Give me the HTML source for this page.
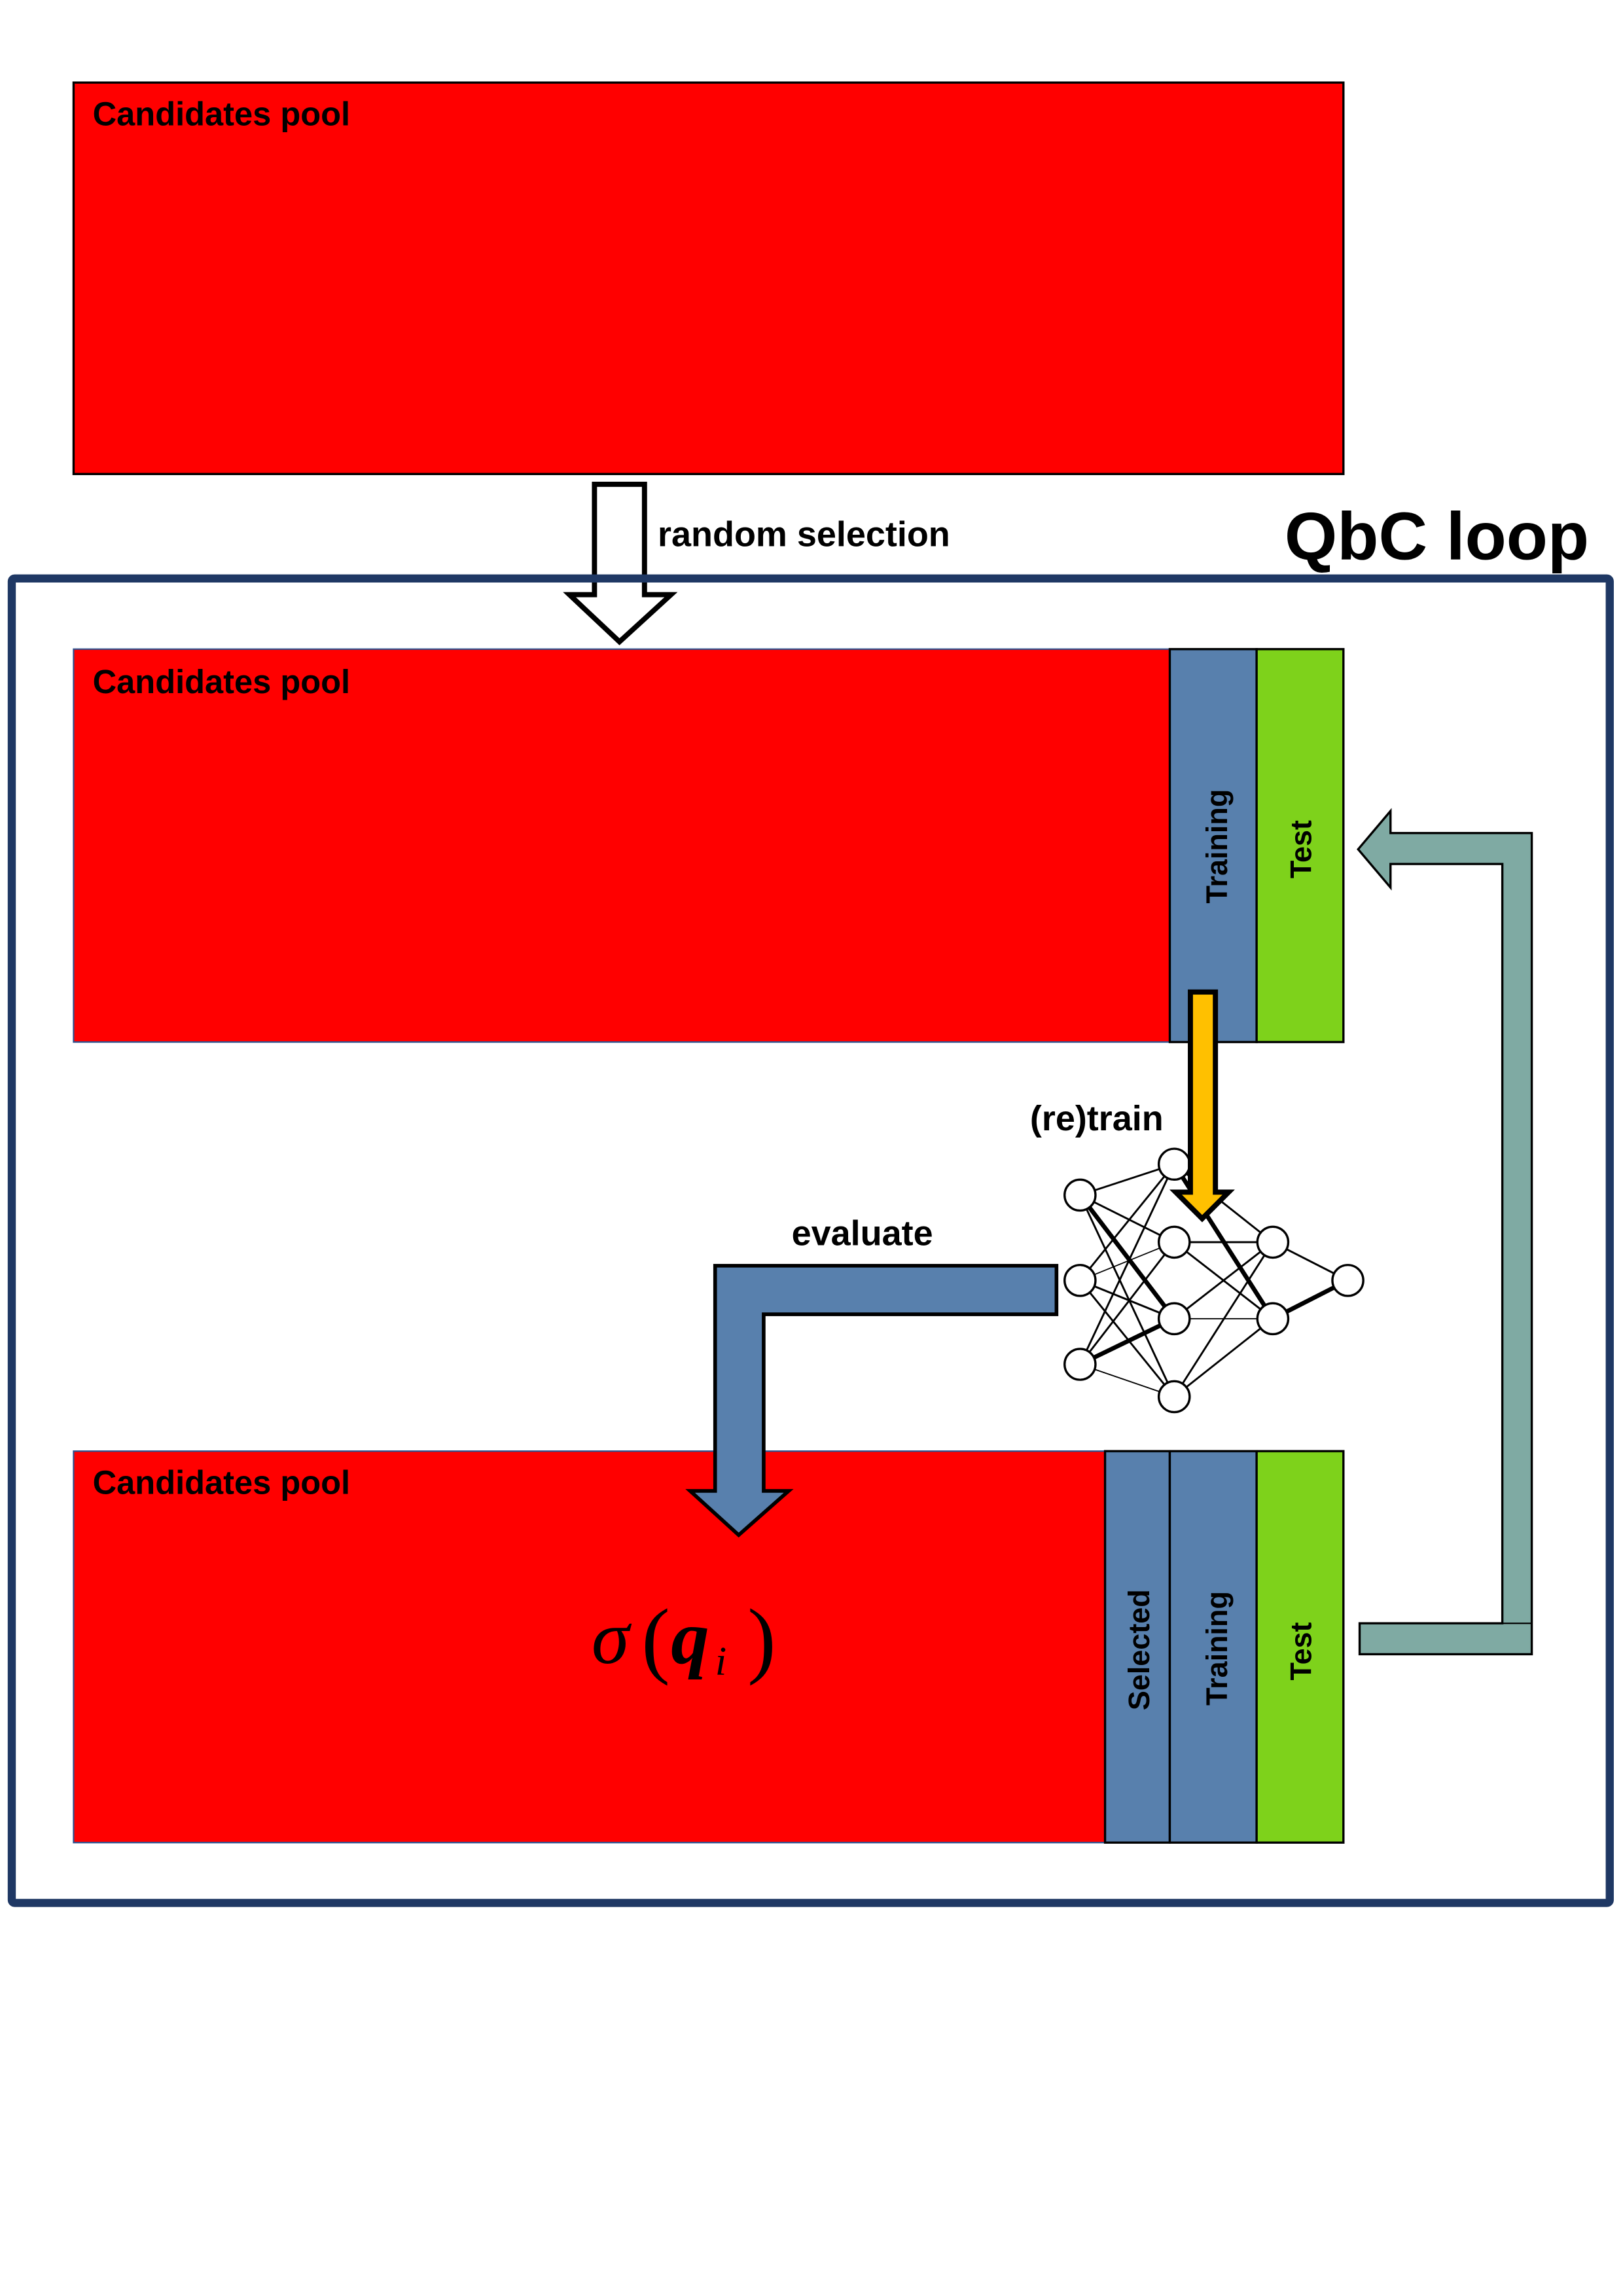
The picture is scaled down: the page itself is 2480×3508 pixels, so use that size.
<!DOCTYPE html>
<html><head><meta charset="utf-8"><style>html,body{margin:0;padding:0;background:#fff}svg{display:block}</style></head>
<body>
<svg width="2480" height="3508" viewBox="0 0 1103 1560" xmlns="http://www.w3.org/2000/svg" font-family="Liberation Sans, sans-serif" font-weight="bold">
<rect x="0" y="0" width="1103" height="1560" fill="#fff"/>
<rect x="50" y="56" width="863" height="266" fill="#ff0000" stroke="#000" stroke-width="1.5"/>
<text x="63" y="85" font-size="22.5">Candidates pool</text>
<path d="M404,329 H438 V404 H456 L421,436 L387,404 H404 Z" fill="#fff" stroke="#000" stroke-width="3.5"/>
<text x="447" y="371" font-size="24">random selection</text>
<text x="873" y="380" font-size="46">QbC loop</text>
<rect x="8" y="393" width="1086" height="900" fill="none" stroke="#1f3864" stroke-width="5.5" rx="2"/>
<rect x="50" y="441" width="745" height="267" fill="#ff0000" stroke="#2f528f" stroke-width="1"/>
<rect x="795" y="441" width="59" height="267" fill="#5880ad" stroke="#000" stroke-width="1.5"/>
<rect x="854" y="441" width="59" height="267" fill="#7ed21b" stroke="#000" stroke-width="1.5"/>
<text x="63" y="471" font-size="22.5">Candidates pool</text>
<text transform="translate(834,575) rotate(-90)" text-anchor="middle" font-size="20">Training</text>
<text transform="translate(891,577) rotate(-90)" text-anchor="middle" font-size="20">Test</text>
<rect x="50" y="986" width="701" height="266" fill="#ff0000" stroke="#2f528f" stroke-width="1"/>
<rect x="751" y="986" width="44" height="266" fill="#5880ad" stroke="#000" stroke-width="1.5"/>
<rect x="795" y="986" width="59" height="266" fill="#5880ad" stroke="#000" stroke-width="1.5"/>
<rect x="854" y="986" width="59" height="266" fill="#7ed21b" stroke="#000" stroke-width="1.5"/>
<text x="63" y="1015" font-size="22.5">Candidates pool</text>
<text transform="translate(781,1121) rotate(-90)" text-anchor="middle" font-size="20">Selected</text>
<text transform="translate(834,1120) rotate(-90)" text-anchor="middle" font-size="20">Training</text>
<text transform="translate(891,1122) rotate(-90)" text-anchor="middle" font-size="20">Test</text>
<text x="402" y="1130" font-size="52" font-family="Liberation Serif, serif" font-style="italic" font-weight="normal">σ</text>
<text x="436" y="1133" font-size="58" font-family="Liberation Serif, serif" font-weight="normal">(</text>
<text x="456" y="1130" font-size="52" font-family="Liberation Serif, serif" font-style="italic" font-weight="bold">q</text>
<text x="486" y="1138" font-size="28" font-family="Liberation Serif, serif" font-style="italic" font-weight="normal">i</text>
<text x="508" y="1133" font-size="58" font-family="Liberation Serif, serif" font-weight="normal">)</text>
<path d="M924,1103 H1021 V587 H945 V603 L923,577 L945,551 V566 H1041 V1124 H924 Z" fill="#7faaa3" stroke="#000" stroke-width="1.5"/>
<line x1="1021" y1="1103" x2="1041" y2="1103" stroke="#000" stroke-width="1"/>
<g stroke="#000" stroke-width="1.3">
<line x1="734" y1="812" x2="798" y2="791"/><line x1="734" y1="812" x2="798" y2="844"/><line x1="734" y1="812" x2="798" y2="896" stroke-width="3"/><line x1="734" y1="812" x2="798" y2="949"/>
<line x1="734" y1="870" x2="798" y2="791"/><line x1="734" y1="870" x2="798" y2="844" stroke-width="0.8"/><line x1="734" y1="870" x2="798" y2="896"/><line x1="734" y1="870" x2="798" y2="949"/>
<line x1="734" y1="927" x2="798" y2="791"/><line x1="734" y1="927" x2="798" y2="844"/><line x1="734" y1="927" x2="798" y2="896" stroke-width="3"/><line x1="734" y1="927" x2="798" y2="949" stroke-width="0.8"/>
<line x1="798" y1="791" x2="865" y2="844"/><line x1="798" y1="791" x2="865" y2="896" stroke-width="3"/>
<line x1="798" y1="844" x2="865" y2="844"/><line x1="798" y1="844" x2="865" y2="896"/>
<line x1="798" y1="896" x2="865" y2="844"/><line x1="798" y1="896" x2="865" y2="896" stroke-width="0.8"/>
<line x1="798" y1="949" x2="865" y2="844"/><line x1="798" y1="949" x2="865" y2="896"/>
<line x1="865" y1="844" x2="916" y2="870"/><line x1="865" y1="896" x2="916" y2="870" stroke-width="3"/>
</g>
<g fill="#fff" stroke="#000" stroke-width="1.5">
<circle cx="734" cy="812" r="10.5"/><circle cx="734" cy="870" r="10.5"/><circle cx="734" cy="927" r="10.5"/>
<circle cx="798" cy="791" r="10.5"/><circle cx="798" cy="844" r="10.5"/><circle cx="798" cy="896" r="10.5"/><circle cx="798" cy="949" r="10.5"/>
<circle cx="865" cy="844" r="10.5"/><circle cx="865" cy="896" r="10.5"/><circle cx="916" cy="870" r="10.5"/>
</g>
<path d="M809,674 H826 V810 H835 L817,828 L799,810 H809 Z" fill="#ffc000" stroke="#000" stroke-width="3.5"/>
<text x="700" y="768" font-size="24">(re)train</text>
<path d="M718,860 V893 H519 V1013 H536 L502,1043 L469,1013 H486 V860 Z" fill="#5880ad" stroke="#000" stroke-width="2.5"/>
<text x="538" y="846" font-size="24">evaluate</text>
</svg>
</body></html>
